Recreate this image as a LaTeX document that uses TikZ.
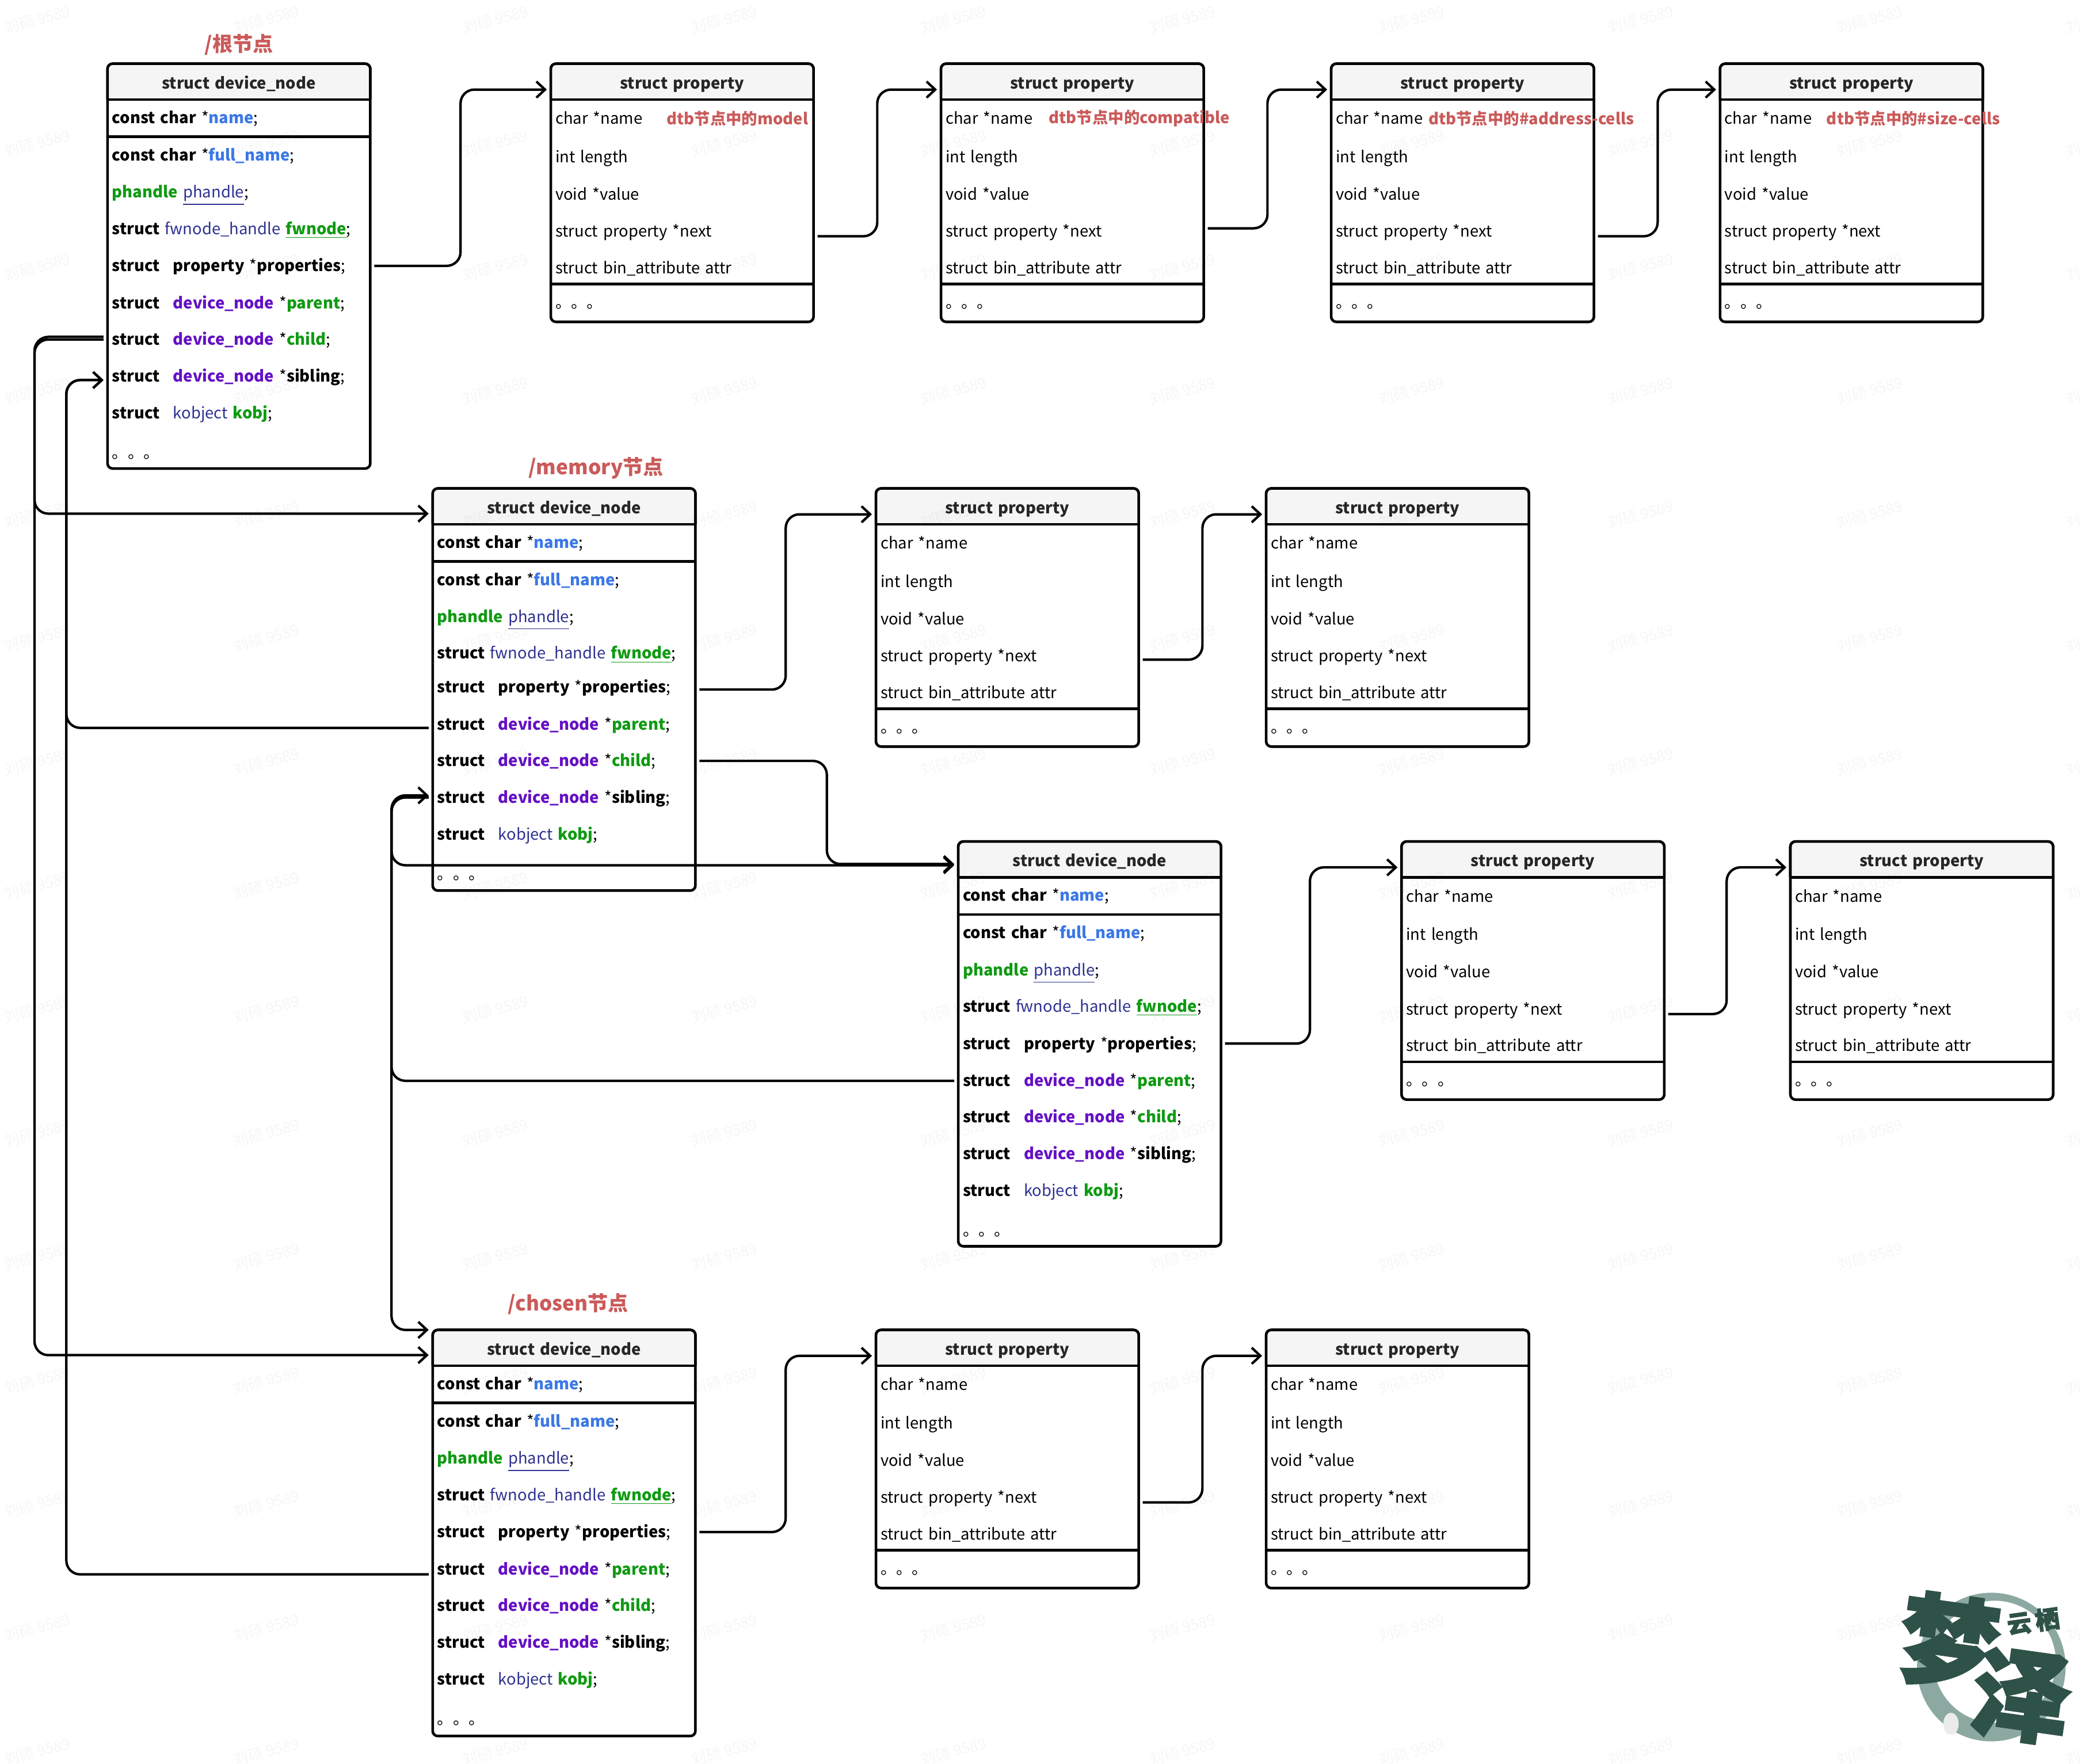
\documentclass[tikz,border=0pt]{standalone}
\usepackage{fontspec}
\setmainfont{Noto Sans CJK SC}
\newfontfamily\logofont[BoldFeatures={FakeBold=2.5}]{Noto Sans CJK SC}
\usetikzlibrary{arrows.meta}

\definecolor{nameblue}{HTML}{3B78E7}
\definecolor{fieldgreen}{HTML}{0F9A12}
\definecolor{typepurple}{HTML}{6410C4}
\definecolor{typenavy}{HTML}{2E3192}
\definecolor{notered}{HTML}{CB5A5A}
\definecolor{headgray}{HTML}{F5F5F5}
\definecolor{logodark}{HTML}{2F5248}
\definecolor{logoring}{HTML}{8CA9A1}

\newcommand{\kw}{\makebox[1.06cm][l]{\textbf{struct}}}
\newcommand{\nm}[1]{\textcolor{nameblue}{\textbf{#1}}}
\newcommand{\fd}[1]{\textcolor{fieldgreen}{\textbf{#1}}}
\newcommand{\tp}[1]{\textcolor{typepurple}{\textbf{#1}}}
\newcommand{\ty}[1]{\textcolor{typenavy}{#1}}

\def\unit{0.02306cm}

\tikzset{
	frame/.style={draw, line width=1.3pt, rounded corners=0.09cm, anchor=north west, outer sep=0pt, inner sep=0pt, minimum width=198*\unit},
	rowtext/.style={anchor=west, outer sep=0pt, inner ysep=0pt, inner xsep=3.5*\unit, text width=191*\unit, align=left, text height=0.8em, text depth=0.25em, font=\fontsize{7.8}{10}\selectfont},
	titletext/.style={rowtext, align=center, text=black!85, font=\fontsize{7.8}{10}\selectfont\bfseries},
	nodelabel/.style={text=notered, font=\fontsize{10}{12}\selectfont\bfseries, inner sep=0pt},
	notetext/.style={anchor=west, text=notered, inner sep=0pt, font=\fontsize{7.8}{10}\selectfont\bfseries},
	link/.style={draw, -{Straight Barb[length=1.5mm,width=2.8mm]}, line width=1.2pt, rounded corners=0.24cm, shorten <=3*\unit, shorten >=3*\unit},
	watermark/.style={rotate=15, text=black, opacity=0.035, font=\fontsize{7.5}{9}\selectfont}
}

\begin{document}
\begin{tikzpicture}[x=0.02306cm,y=-0.02306cm]
	\useasboundingbox (0,0) rectangle (1568,1328.7);

	% Device nodes
	\foreach \n/\x/\y/\h/\dn/\a in {root/81/48/305/0/19, memory/326/368/303/-2.5/19, third/722/634/305/0/17, chosen/326/1002/306/0/19} {
			\node[frame, minimum height=\h*\unit] (\n) at (\x,\y) {};
			\path[fill=headgray, draw, line width=1.3pt, rounded corners=0.09cm] (\x,\y+27) |- (\x+198,\y) -- (\x+198,\y+27);
			\draw[line width=1.3pt] (\x,\y+27) -- ++(198,0);
			\draw[line width=1.3pt] (\x,\y+55) -- ++(198,0);
			\coordinate (\n-in) at (\x,\y+\a);
			\coordinate (\n-top) at (\x,\y);
			\node[titletext] (\n-title) at (\x,\y+14.7) {struct device\_node};

			% Rows
			\foreach \f/\dy/\k/\txt in {
					name/40.8/0/{\textbf{const char} *\nm{name};},
					fullname/68.8/0/{\textbf{const char} *\nm{full\_name};},
					phandle/96.8/0/{\fd{phandle} \ty{\underline{phandle}};},
					fwnode/124.3/0/{\textbf{struct} \ty{fwnode\_handle} \textcolor{fieldgreen}{\underline{\textbf{fwnode}}};},
					properties/152.3/1/{\kw\textbf{property} *\textbf{properties};},
					parent/180.3/1/{\kw\tp{device\_node} *\fd{parent};},
					child/207.8/1/{\kw\tp{device\_node} *\fd{child};},
					sibling/235.3/1/{\kw\tp{device\_node} *\textbf{sibling};},
					kobj/263.3/1/{\kw\ty{kobject} \fd{kobj};},
					dots/293/1/{。。。}} {
					\node[rowtext] (\n-\f) at (\x,\y+\dy+\dn*\k) {\txt};
				}
		}

	% Property nodes
	\foreach \n/\x/\y/\o in {propa/415/48/130, propb/709/48/124, propc/1003/48/130, propd/1296/48/130, meme/660/368/129, memf/954/368/129, thrg/1056/634/130, thrh/1349/634/130, choi/660/1002/130, choj/954/1002/130} {
			\node[frame, minimum height=194.5*\unit] (\n) at (\x,\y) {};
			\path[fill=headgray, draw, line width=1.3pt, rounded corners=0.09cm] (\x,\y+27) |- (\x+198,\y) -- (\x+198,\y+27);
			\draw[line width=1.3pt] (\x,\y+27) -- ++(198,0);
			\draw[line width=1.3pt] (\x,\y+166) -- ++(198,0);
			\coordinate (\n-in) at (\x,\y+19.5);
			\coordinate (\n-out) at (\x+198,\y+\o);
			\node[titletext] (\n-title) at (\x,\y+14.7) {struct property};

			% Rows
			\foreach \f/\dy/\txt in {name/41.3/{char *name}, length/70.3/{int length}, value/98.3/{void *value}, next/126.3/{struct property *next}, attr/153.8/{struct bin\_attribute attr}, dots/180/{。。。}} {
					\node[rowtext] (\n-\f) at (\x,\y+\dy) {\txt};
				}
		}

	% Labels
	\node[nodelabel] (rootlabel) at (180,33.5) {/根节点};
	\node[nodelabel] (memorylabel) at (449,352.5) {/memory节点};
	\node[nodelabel] (chosenlabel) at (428,982.5) {/chosen节点};
	\node[notetext] (notea) at (502,89.3) {dtb节点中的model};
	\node[notetext] (noteb) at (790,89.3) {dtb节点中的compatible};
	\node[notetext] (notec) at (1076,89.3) {dtb节点中的\#address-cells};
	\node[notetext] (noted) at (1376,89.3) {dtb节点中的\#size-cells};

	% Property chains
	\draw[link] (root-properties.east) -- ++(68,0) |- (propa-in);
	\draw[link] (propa-out) -- ++(48,0) |- (propb-in);
	\draw[link] (propb-out) -- ++(48,0) |- (propc-in);
	\draw[link] (propc-out) -- ++(48,0) |- (propd-in);
	\draw[link] ([yshift=-0.04cm]memory-properties.east) -- ++(68,0) |- (meme-in);
	\draw[link] (meme-out) -- ++(48,0) |- (memf-in);
	\draw[link] (third-properties.east) -- ++(67,0) |- (thrg-in);
	\draw[link] (thrg-out) -- ++(47,0) |- (thrh-in);
	\draw[link] (chosen-properties.east) -- ++(68,0) |- (choi-in);
	\draw[link] (choi-out) -- ++(48,0) |- (choj-in);

	% Tree links
	\draw[link] (root-child.west) -- ++(-55,0) |- (memory-in);
	\draw[link] ([yshift=1.3pt]root-child.west) -- ++(-55,0) |- (chosen-in);
	\draw[link] ([yshift=-0.06cm]memory-parent.west) -- ++(-276,0) |- ([yshift=-0.07cm]root-sibling.west);
	\draw[link] ([yshift=-0.09cm]chosen-parent.west) -- ++(-276,0) |- ([yshift=-0.07cm]root-sibling.west);
	\draw[link] (memory-child.east) -- ++(99,0) |- (third-in);
	\draw[link] (memory-sibling.west) -- ++(-31,0) |- ([yshift=-0.6pt]third-in);
	\draw[link] (memory-sibling.west) -- ++(-31,0) |- (chosen-top);
	\draw[link] (third-parent.west) -- ++(-427,0) |- ([yshift=1pt]memory-sibling.west);

	% Logo
	\fill[logoring, even odd rule] (1500.4,1256) circle[radius=56] (1503,1252) circle[radius=46];
	\node[inner sep=0pt, rotate=-8, text=logodark, font=\fontsize{49}{50}\selectfont\logofont\bfseries] (logoa) at (1468.6,1237) {梦};
	\node[inner sep=0pt, rotate=-8, text=logodark, font=\fontsize{49}{50}\selectfont\logofont\bfseries] (logob) at (1523.5,1278) {泽};
	\node[inner sep=0pt, rotate=8, text=logodark, font=\fontsize{12}{13}\selectfont\logofont\bfseries] (logoc) at (1532,1221.5) {云\,栖};
	\fill[black!8] (1470,1298.8) ellipse[x radius=5.8, y radius=8.3];

	% Watermark
	\foreach \i in {0,...,9} {
			\foreach \j in {0,...,14} {
					\node[watermark] (wm\i-\j) at (28+172.6*\i,14.7+93.2*\j) {刘硕 9589};
				}
		}
\end{tikzpicture}
\end{document}
